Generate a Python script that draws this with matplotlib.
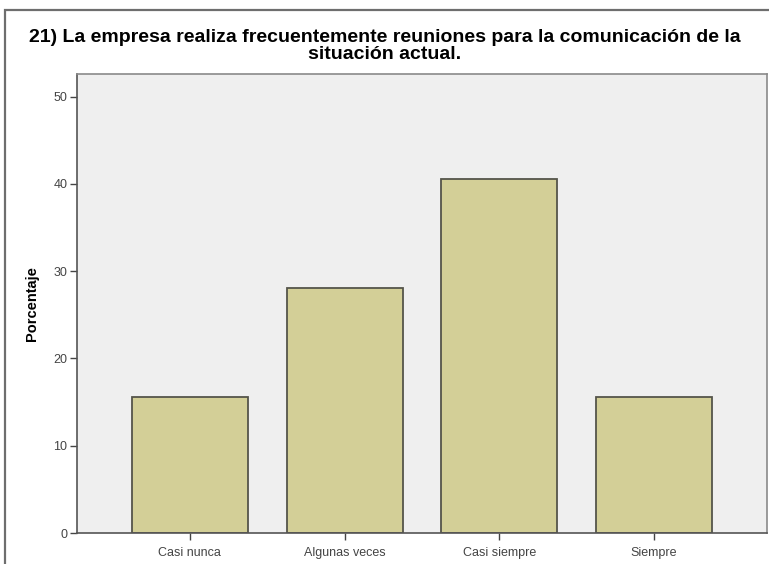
import matplotlib
matplotlib.use("Agg")
import matplotlib.pyplot as plt
from matplotlib.patches import Rectangle

categories = ["Casi nunca", "Algunas veces", "Casi siempre", "Siempre"]
porcentaje = [15.6, 28.1, 40.6, 15.6]
yticks = [0, 10, 20, 30, 40, 50]
title = "21) La empresa realiza frecuentemente reuniones para la comunicación de la\nsituación actual."

plt.rcParams['font.family'] = ['Liberation Sans', 'DejaVu Sans']

fig = plt.figure(figsize=(7.69, 5.64), dpi=100)
ax = fig.add_axes([77 / 769, 1 - 533 / 564, 690 / 769, 459 / 564])

# outer frame, partly cut off on the right and bottom
fig.patches.append(Rectangle((5 / 769, -0.05), 1.0, 1 - 10 / 564 + 0.05,
                             transform=fig.transFigure, fill=False,
                             edgecolor='#6e6e6e', linewidth=1.6))

ax.set_facecolor('#efefef')
x = range(len(categories))
ax.bar(x, porcentaje, width=0.75, color='#d3cf97', edgecolor='#55554a', linewidth=1.3, zorder=2)

ax.set_xlim(-0.73, 3.73)
ax.set_ylim(0, 52.6)
ax.set_yticks(yticks)
ax.set_xticks(list(x))
ax.set_xticklabels(categories)
ax.tick_params(axis='both', direction='out', length=5, width=1, colors='#444444',
               labelsize=9, labelcolor='#444444')
ax.tick_params(axis='x', pad=5)
ax.tick_params(axis='y', pad=2)

for s in ['left', 'bottom']:
    ax.spines[s].set_color('#555555')
    ax.spines[s].set_linewidth(1.2)
for s in ['top', 'right']:
    ax.spines[s].set_color('#8a8a8a')
    ax.spines[s].set_linewidth(1.2)

ax.set_ylabel("Porcentaje", fontsize=10.5, fontweight='bold', labelpad=10)
fig.text(0.5, 1 - 46 / 564, title, ha='center', va='center', fontsize=14,
         fontweight='bold', linespacing=1.0)

fig.savefig("out.png", dpi=100)
